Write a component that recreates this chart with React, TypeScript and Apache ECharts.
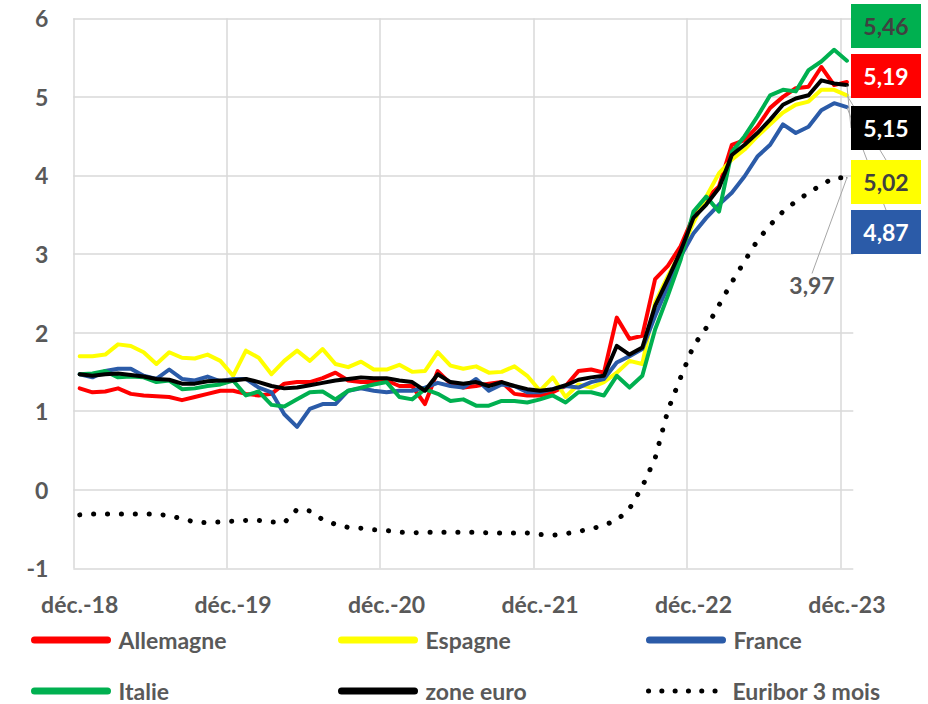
import React, { useEffect, useRef } from "react";
import * as echarts from "echarts";

// ---- categories (monthly, déc.-18 … déc.-23) ----
const MONTHS = ["janv.", "févr.", "mars", "avr.", "mai", "juin", "juil.", "août", "sept.", "oct.", "nov.", "déc."];
const categories: string[] = ["déc.-18"];
for (let y = 19; y <= 23; y++) for (const m of MONTHS) categories.push(`${m}-${y}`);

const yTicks = [-1, 0, 1, 2, 3, 4, 5, 6];

// ---- series values ----
const allemagne = [
  1.29, 1.24, 1.25, 1.29, 1.22, 1.20, 1.19, 1.18, 1.14, 1.18, 1.22, 1.26,
  1.26, 1.22, 1.20, 1.22, 1.35, 1.37, 1.37, 1.42, 1.49, 1.39, 1.37, 1.37, 1.39,
  1.32, 1.32, 1.09, 1.51, 1.35, 1.30, 1.32, 1.35, 1.37, 1.22, 1.20, 1.20,
  1.24, 1.32, 1.51, 1.53, 1.49, 2.19, 1.92, 1.96, 2.68, 2.85, 3.10, 3.48,
  3.71, 3.86, 4.39, 4.45, 4.62, 4.86, 5.00, 5.11, 5.13, 5.38, 5.15, 5.19,
];
const espagne = [
  1.70, 1.70, 1.72, 1.85, 1.83, 1.75, 1.60, 1.75, 1.68, 1.67, 1.72, 1.64,
  1.45, 1.77, 1.68, 1.47, 1.64, 1.77, 1.64, 1.79, 1.60, 1.56, 1.63, 1.53, 1.53,
  1.59, 1.50, 1.51, 1.75, 1.58, 1.54, 1.57, 1.49, 1.50, 1.57, 1.45, 1.26,
  1.43, 1.18, 1.34, 1.30, 1.37, 1.49, 1.64, 1.60, 2.38, 2.72, 3.02, 3.40,
  3.73, 4.03, 4.20, 4.33, 4.50, 4.65, 4.80, 4.90, 4.94, 5.09, 5.09, 5.02,
];
const france = [
  1.47, 1.43, 1.51, 1.54, 1.54, 1.45, 1.41, 1.53, 1.41, 1.39, 1.44, 1.38,
  1.41, 1.41, 1.30, 1.24, 0.96, 0.80, 1.03, 1.09, 1.09, 1.26, 1.29, 1.26, 1.24,
  1.26, 1.26, 1.30, 1.36, 1.32, 1.30, 1.41, 1.26, 1.34, 1.32, 1.24, 1.24,
  1.28, 1.32, 1.30, 1.37, 1.41, 1.62, 1.70, 1.79, 2.21, 2.59, 2.97, 3.26,
  3.46, 3.63, 3.78, 3.99, 4.24, 4.39, 4.65, 4.54, 4.62, 4.83, 4.92, 4.87,
];
const italie = [
  1.47, 1.48, 1.51, 1.43, 1.44, 1.43, 1.37, 1.39, 1.28, 1.29, 1.32, 1.34,
  1.39, 1.20, 1.25, 1.08, 1.06, 1.15, 1.24, 1.25, 1.15, 1.26, 1.30, 1.34, 1.37,
  1.18, 1.15, 1.28, 1.22, 1.13, 1.15, 1.07, 1.07, 1.13, 1.13, 1.11, 1.15,
  1.20, 1.11, 1.24, 1.24, 1.20, 1.45, 1.30, 1.45, 2.04, 2.47, 2.93, 3.54,
  3.73, 3.54, 4.30, 4.50, 4.75, 5.02, 5.09, 5.07, 5.34, 5.45, 5.60, 5.46,
];
const zoneEuro = [
  1.47, 1.45, 1.47, 1.48, 1.46, 1.44, 1.41, 1.40, 1.35, 1.35, 1.38, 1.39,
  1.39, 1.41, 1.37, 1.32, 1.29, 1.30, 1.33, 1.36, 1.39, 1.41, 1.43, 1.42, 1.42,
  1.39, 1.37, 1.26, 1.47, 1.37, 1.35, 1.37, 1.32, 1.37, 1.32, 1.28, 1.26,
  1.28, 1.33, 1.40, 1.43, 1.45, 1.83, 1.72, 1.81, 2.34, 2.68, 3.04, 3.46,
  3.63, 3.84, 4.26, 4.39, 4.54, 4.71, 4.90, 4.98, 5.02, 5.21, 5.17, 5.15,
];
const euribor3m = [
  -0.32,
  -0.31, -0.31, -0.31, -0.31, -0.31, -0.31, -0.33, -0.37, -0.41, -0.42, -0.41, -0.40,
  -0.39, -0.39, -0.41, -0.42, -0.25, -0.27, -0.38, -0.44, -0.48, -0.49, -0.51, -0.52,
  -0.54, -0.55, -0.54, -0.54, -0.54, -0.54, -0.54, -0.55, -0.55, -0.55, -0.55, -0.57,
  -0.58, -0.56, -0.53, -0.50, -0.45, -0.39, -0.24, 0.04, 0.40, 1.01, 1.43, 1.83,
  2.06, 2.35, 2.64, 2.91, 3.17, 3.37, 3.54, 3.67, 3.78, 3.88, 3.97, 3.97,
];

const FONT = "Lato, 'Open Sans', sans-serif";
const GREY = "#595959";
const GRIDC = "#D9D9D9";

type Def = {
  name: string;
  data: number[];
  color: string;
  dotted?: boolean;
  box?: { bg: string; fg: string; x: number; y: number } | null;
  plain?: { x: number; y: number };
  guide: boolean;
  legendPos: [number, number];
};

const defs: Def[] = [
  { name: "Allemagne", data: allemagne, color: "#FF0000", box: { bg: "#FF0000", fg: "#FFFFFF", x: 886, y: 76 }, guide: false, legendPos: [31, 628] },
  { name: "Espagne", data: espagne, color: "#FFFF00", box: { bg: "#FFFF00", fg: "#404040", x: 886, y: 182 }, guide: true, legendPos: [338, 628] },
  { name: "France", data: france, color: "#2B5BA8", box: { bg: "#2B5BA8", fg: "#FFFFFF", x: 886, y: 232 }, guide: true, legendPos: [646, 628] },
  { name: "Italie", data: italie, color: "#00B050", box: { bg: "#00B050", fg: "#404040", x: 886, y: 26 }, guide: false, legendPos: [31, 679] },
  { name: "zone euro", data: zoneEuro, color: "#000000", box: { bg: "#000000", fg: "#FFFFFF", x: 886, y: 128 }, guide: true, legendPos: [338, 679] },
  { name: "Euribor 3 mois", data: euribor3m, color: "#000000", dotted: true, box: null, plain: { x: 812, y: 285 }, guide: true, legendPos: [646, 679] },
];

const fmt = (v: number) => v.toFixed(2).replace(".", ",");

function buildOption() {
  const series = defs.map((d) => {
    const last = d.data.length - 1;
    const labelPos = d.box ? { x: d.box.x, y: d.box.y } : d.plain!;
    const label = d.box
      ? {
          show: true,
          formatter: (p: any) => fmt(Number(p.value)),
          fontFamily: FONT,
          fontSize: 23,
          fontWeight: "bold",
          color: d.box.fg,
          backgroundColor: d.box.bg,
          width: 70,
          height: 44,
          lineHeight: 44,
          align: "center",
          verticalAlign: "middle",
          padding: 0,
        }
      : {
          show: true,
          formatter: (p: any) => fmt(Number(p.value)),
          fontFamily: FONT,
          fontSize: 23,
          fontWeight: "bold",
          color: GREY,
          align: "center",
          verticalAlign: "middle",
        };
    return {
      name: d.name,
      type: "line",
      symbol: "none",
      showSymbol: true,
      z: d.dotted ? 1 : 2,
      lineStyle: d.dotted
        ? { color: d.color, width: 5, type: [0.1, 13.8], cap: "round" }
        : { color: d.color, width: 4, cap: "round", join: "round" },
      itemStyle: { color: d.color },
      data: d.data.map((v, i) =>
        i === last
          ? {
              value: v,
              symbol: "circle",
              symbolSize: 1,
              label,
              labelLine: { show: d.guide, lineStyle: { color: "#A6A6A6", width: 1 } },
            }
          : v
      ),
      labelLayout: { x: labelPos.x, y: labelPos.y, align: "center", verticalAlign: "middle" },
      emphasis: { disabled: true },
    };
  });

  const legends = defs.map((d) => ({
    data: [d.name],
    left: d.legendPos[0],
    top: d.legendPos[1],
    padding: 0,
    itemWidth: 73,
    itemHeight: 24,
    selectedMode: false,
    textStyle: {
      fontFamily: FONT,
      fontSize: 23,
      fontWeight: "bold",
      color: GREY,
      lineHeight: 24,
      padding: [0, 0, 0, 6],
    },
    itemStyle: { opacity: 0 },
    lineStyle: d.dotted
      ? { width: 5, type: [0.1, 13.2], cap: "round", color: d.color }
      : { width: 7, cap: "round", color: d.color },
  }));

  return {
    animation: false,
    backgroundColor: "#FFFFFF",
    textStyle: { fontFamily: FONT },
    grid: { left: 73.3, right: 74.7, top: 18.3, bottom: 135.7, containLabel: false },
    legend: legends,
    xAxis: {
      type: "category",
      data: categories,
      boundaryGap: true,
      axisLine: { show: false },
      axisTick: { show: false },
      axisLabel: {
        interval: 11,
        margin: 24,
        fontFamily: FONT,
        fontSize: 23,
        fontWeight: "bold",
        color: GREY,
      },
      splitLine: {
        show: true,
        interval: 11,
        showMaxLine: false,
        lineStyle: {
          color: [GRIDC, GRIDC, GRIDC, GRIDC, GRIDC, GRIDC, "rgba(0,0,0,0)"],
          width: 1.5,
        },
      },
    },
    yAxis: {
      type: "value",
      min: yTicks[0],
      max: yTicks[yTicks.length - 1],
      interval: 1,
      axisLine: { show: false },
      axisTick: { show: false },
      axisLabel: {
        margin: 25,
        fontFamily: FONT,
        fontSize: 23,
        fontWeight: "bold",
        color: GREY,
      },
      splitLine: { show: true, lineStyle: { color: GRIDC, width: 1.5 } },
    },
    series,
  };
}

export default function App() {
  const ref = useRef<HTMLDivElement>(null);
  useEffect(() => {
    document.body.style.margin = "0";
    if (!ref.current) return;
    const chart = echarts.init(ref.current, undefined, { renderer: "svg" });
    chart.setOption(buildOption() as any);
    return () => chart.dispose();
  }, []);
  return <div ref={ref} style={{ width: 928, height: 704 }} />;
}
